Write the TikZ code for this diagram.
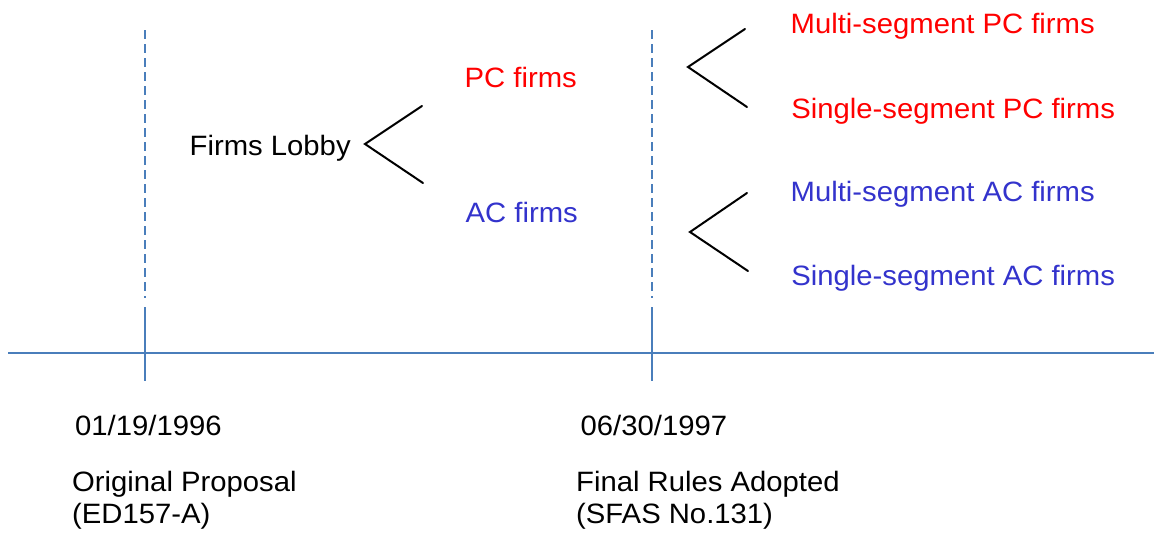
\documentclass[tikz,border=0pt]{standalone}
\usepackage{fontspec}
\setmainfont{Liberation Sans}[FakeStretch=1.045]
\definecolor{axisblue}{HTML}{4A7EBB}
\definecolor{acblue}{HTML}{3333CC}
\definecolor{pcred}{HTML}{FF0000}
\tikzset{
  lbl/.style={anchor=base west, inner sep=0pt, font=\fontsize{28}{32.6}\selectfont},
  pc/.style={lbl, text=pcred},
  ac/.style={lbl, text=acblue},
  fork/.style={draw=black, line width=2pt, line cap=round},
  axis/.style={draw=axisblue, line width=2pt},
  guide/.style={draw=axisblue, line width=2pt, dash pattern=on 9pt off 5pt},
}
\begin{document}
\begin{tikzpicture}[x=1pt, y=-1pt]
\useasboundingbox (0,0) rectangle (1154,533);

% timeline
\coordinate (axL) at (8,352.5);
\coordinate (axR) at (1154,352.5);
\draw[axis] (axL) -- (axR);

% milestone ticks with dashed guides
\foreach \nm/\x in {t1/145, t2/652} {
  \coordinate (\nm top) at (\x,30);
  \coordinate (\nm mid) at (\x,298);
  \coordinate (\nm tick) at (\x,307);
  \coordinate (\nm bot) at (\x,381);
  \draw[guide] (\nm top) -- (\nm mid);
  \draw[axis] (\nm tick) -- (\nm bot);
}

% labels
\node[lbl] (lobby) at (189.5,155) {Firms Lobby};
\node[pc] (pcf) at (464.5,87.3) {PC firms};
\node[ac] (acf) at (465.5,222.7) {AC firms};
\node[pc] (mpc) at (790.5,33.5) {Multi-segment PC firms};
\node[pc] (spc) at (791.2,118) {Single-segment PC firms};
\node[ac] (mac) at (790.5,201.7) {Multi-segment AC firms};
\node[ac] (sac) at (791.2,285) {Single-segment AC firms};

\node[lbl] (d1) at (75,435) {01/19/1996};
\node[lbl] (d2) at (580.5,435) {06/30/1997};
% two-line captions: the base anchor sits on the last line
\node[lbl, align=left] (e1) at (72,523.6) {Original Proposal\\(ED157-A)};
\node[lbl, align=left] (e2) at (576,523.6) {Final Rules Adopted\\(SFAS No.131)};

% branching forks
\coordinate (f1a) at (365,144);
\coordinate (f1u) at (422,106);
\coordinate (f1d) at (423,183);
\draw[fork] (f1u) -- (f1a) -- (f1d);

\coordinate (f2a) at (688,67);
\coordinate (f2u) at (745,29);
\coordinate (f2d) at (747,107);
\draw[fork] (f2u) -- (f2a) -- (f2d);

\coordinate (f3a) at (690,232);
\coordinate (f3u) at (747,193);
\coordinate (f3d) at (748,271);
\draw[fork] (f3u) -- (f3a) -- (f3d);
\end{tikzpicture}
\end{document}
